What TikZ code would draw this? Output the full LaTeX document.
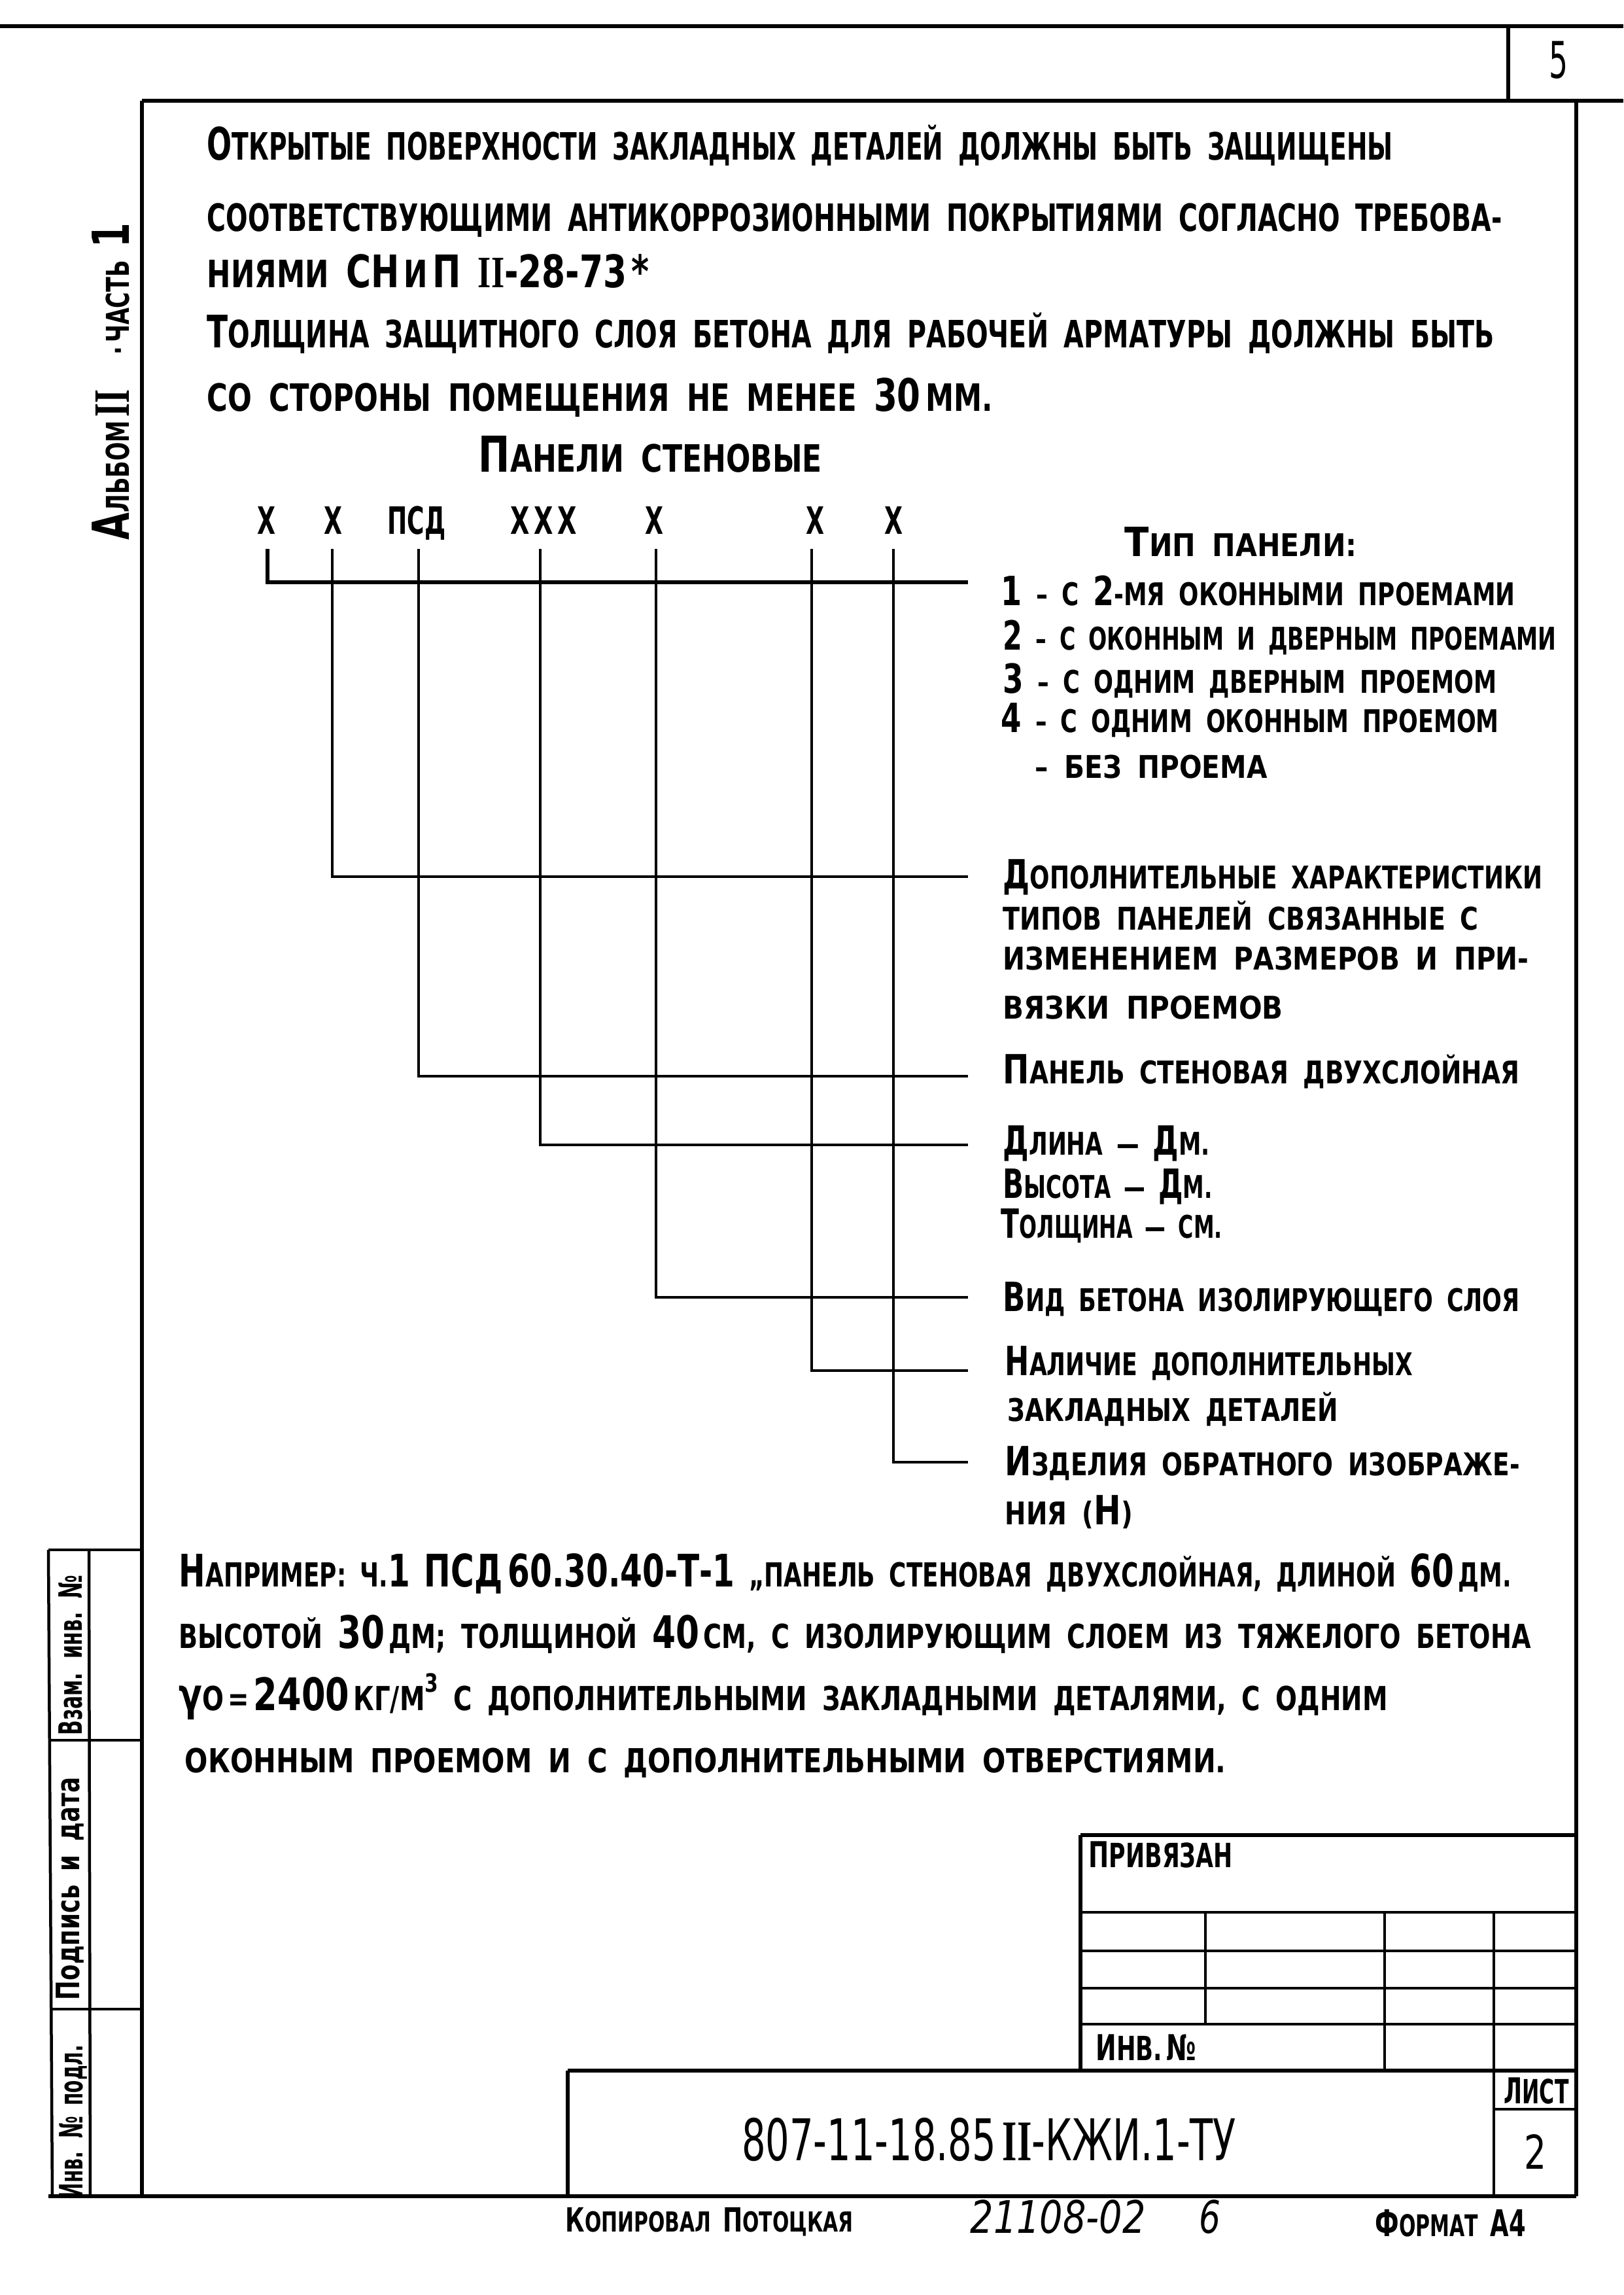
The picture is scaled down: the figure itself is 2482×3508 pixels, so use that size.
\documentclass[tikz,border=0pt]{standalone}
\usepackage{fontspec}
\setmainfont{DejaVu Sans}
\newfontfamily\romf{Liberation Serif}
\usepackage{graphicx}
\newsavebox\fitbox
\newcommand\fitto[2]{\sbox\fitbox{#2}\pgfmathsetmacro\fitf{#1*0.284528/\the\wd\fitbox}\scalebox{\fitf}[1]{\usebox\fitbox}}
\def\initsz{12}
\newcommand\I[1]{{\fontsize{\initsz}{\initsz}\selectfont #1}}
\newcommand\rom[1]{{\romf\bfseries #1}}
\tikzset{
  txt/.style={inner sep=0pt, anchor=base west},
  ctr/.style={inner sep=0pt, anchor=base},
  fs/.style n args={2}{font={\fontsize{#1}{#1}\selectfont\bfseries\def\initsz{#2}\spaceskip=0.6em\relax}},
  fm/.style n args={2}{font={\fontsize{#1}{#1}\selectfont\mdseries\def\initsz{#2}\spaceskip=0.6em\relax}},
  pfont/.style={fs={16.4}{19.5}},
  rfont/.style={fs={13.6}{17.5}},
  efont/.style={fs={14.4}{19.5}},
  hfont/.style={fs={16.4}{21.5}},
  cfont/.style={fs={16.4}{16.4}},
  sfont/.style={fs={14}{14}},
  afont/.style={fs={13.7}{22.2}},
  tbfont/.style={fs={14.5}{15.5}},
  thick frame/.style={line width=0.6mm},
  lead/.style={line width=0.45mm},
  gridline/.style={line width=0.45mm},
}
\begin{document}
\begin{tikzpicture}[x=0.1mm,y=-0.1mm]
\useasboundingbox (0,0) rectangle (2482,3508);
\fill[white] (0,0) rectangle (2482,3508);

% sheet frame
\draw[thick frame] (0,40) -- (2482,40);
\draw[thick frame] (2306,40) -- (2306,154);
\draw[thick frame] (217,154) -- (2482,154);
\draw[thick frame] (217,154) -- (217,3357);
\draw[thick frame] (2410,154) -- (2410,3357);
\draw[thick frame] (74,3357) -- (2410,3357);
\node[ctr, fm={22}{22}] (pg) at (2383,120) {\fitto{29}{5}};

% side stamp
\draw[gridline] (74,2369) -- (217,2369);
\draw[gridline] (74,2369) -- (80,3357);
\draw[gridline] (136,2369) -- (138,3357);
\draw[gridline] (76,2660) -- (217,2660);
\draw[gridline] (78,3071) -- (217,3071);
\node[ctr, sfont, rotate=90] (s1) at (125,2530) {\fitto{245}{Взам. инв. №}};
\node[ctr, sfont, rotate=90] (s2) at (121,2887) {\fitto{340}{Подпись и дата}};
\node[ctr, sfont, rotate=90] (s3) at (126,3243) {\fitto{234}{Инв. № подл.}};
\node[ctr, afont, rotate=90] (alb) at (197,583) {\fitto{485}{\I{А}ЛЬБОМ\,\I{\rom{II}}\hspace{1.6em}·\,ЧАСТЬ \I{1}}};

% top paragraph
\node[txt, pfont] (p1) at (316,245) {\fitto{1813}{\I{О}ТКРЫТЫЕ ПОВЕРХНОСТИ ЗАКЛАДНЫХ ДЕТАЛЕЙ ДОЛЖНЫ БЫТЬ ЗАЩИЩЕНЫ}};
\node[txt, pfont] (p2) at (316,354) {\fitto{1980}{СООТВЕТСТВУЮЩИМИ АНТИКОРРОЗИОННЫМИ ПОКРЫТИЯМИ СОГЛАСНО ТРЕБОВА-}};
\node[txt, pfont] (p3) at (316,440) {\fitto{676}{НИЯМИ \I{СН}\,И\,\I{П} \I{\rom{II}-28-73}\,\I{*}}};
\node[txt, pfont] (p4) at (316,532) {\fitto{1968}{\I{Т}ОЛЩИНА ЗАЩИТНОГО СЛОЯ БЕТОНА ДЛЯ РАБОЧЕЙ АРМАТУРЫ ДОЛЖНЫ БЫТЬ}};
\node[txt, pfont] (p5) at (316,629) {\fitto{1201}{СО СТОРОНЫ ПОМЕЩЕНИЯ НЕ МЕНЕЕ \I{30}\,ММ.}};
\node[txt, hfont] (hd) at (731,722) {\fitto{525}{\I{П}АНЕЛИ СТЕНОВЫЕ}};

% code letters
\node[ctr, cfont] (c1) at (407,816) {\fitto{28}{Х}};
\node[ctr, cfont] (c2) at (509,816) {\fitto{28}{Х}};
\node[ctr, cfont] (c3) at (637,816) {\fitto{89}{ПСД}};
\node[ctr, cfont] (c4) at (831,816) {\fitto{101}{Х\,Х\,Х}};
\node[ctr, cfont] (c5) at (1000,816) {\fitto{28}{Х}};
\node[ctr, cfont] (c6) at (1246,816) {\fitto{28}{Х}};
\node[ctr, cfont] (c7) at (1366,816) {\fitto{28}{Х}};

% leader points
\coordinate (a1) at (409,839);
\coordinate (a2) at (508,839);
\coordinate (a3) at (640,839);
\coordinate (a4) at (826,839);
\coordinate (a5) at (1003,839);
\coordinate (a6) at (1241,839);
\coordinate (a7) at (1366,839);
\coordinate (e1) at (1480,890);
\coordinate (e2) at (1480,1340);
\coordinate (e3) at (1480,1645);
\coordinate (e4) at (1480,1750);
\coordinate (e5) at (1480,1983);
\coordinate (e6) at (1480,2095);
\coordinate (e7) at (1480,2235);
\draw[lead, line width=0.55mm] (a1) |- (e1);
\draw[lead] (a2) |- (e2);
\draw[lead] (a3) |- (e3);
\draw[lead] (a4) |- (e4);
\draw[lead] (a5) |- (e5);
\draw[lead] (a6) |- (e6);
\draw[lead] (a7) |- (e7);

% explanation texts
\node[txt, rfont] (tt) at (1719,850) {\fitto{355}{\I{Т}ИП ПАНЕЛИ:}};
\node[txt, rfont] (t1) at (1530,925) {\fitto{786}{\I{1} – С \I{2}-МЯ ОКОННЫМИ ПРОЕМАМИ}};
\node[txt, rfont] (t1b) at (1533,993) {\fitto{846}{\I{2} – С ОКОННЫМ И ДВЕРНЫМ ПРОЕМАМИ}};
\node[txt, rfont] (t1c) at (1533,1059) {\fitto{755}{\I{3} – С ОДНИМ ДВЕРНЫМ ПРОЕМОМ}};
\node[txt, rfont] (t1d) at (1530,1119) {\fitto{761}{\I{4} – С ОДНИМ ОКОННЫМ ПРОЕМОМ}};
\node[txt, rfont] (t1e) at (1582,1189) {\fitto{355}{– БЕЗ ПРОЕМА}};
\node[txt, rfont] (t2) at (1533,1358) {\fitto{825}{\I{Д}ОПОЛНИТЕЛЬНЫЕ ХАРАКТЕРИСТИКИ}};
\node[txt, rfont] (t2b) at (1533,1421) {\fitto{727}{ТИПОВ ПАНЕЛЕЙ СВЯЗАННЫЕ С}};
\node[txt, rfont] (t2c) at (1533,1482) {\fitto{804}{ИЗМЕНЕНИЕМ РАЗМЕРОВ И ПРИ-}};
\node[txt, rfont] (t2d) at (1533,1557) {\fitto{428}{ВЯЗКИ ПРОЕМОВ}};
\node[txt, rfont] (t3) at (1533,1656) {\fitto{790}{\I{П}АНЕЛЬ СТЕНОВАЯ ДВУХСЛОЙНАЯ}};
\node[txt, rfont] (t4) at (1533,1765) {\fitto{316}{\I{Д}ЛИНА — \I{Д}М.}};
\node[txt, rfont] (t4b) at (1533,1831) {\fitto{320}{\I{В}ЫСОТА — \I{Д}М.}};
\node[txt, rfont] (t4c) at (1530,1892) {\fitto{338}{\I{Т}ОЛЩИНА — СМ.}};
\node[txt, rfont] (t5) at (1533,2004) {\fitto{790}{\I{В}ИД БЕТОНА ИЗОЛИРУЮЩЕГО СЛОЯ}};
\node[txt, rfont] (t6) at (1536,2102) {\fitto{623}{\I{Н}АЛИЧИЕ ДОПОЛНИТЕЛЬНЫХ}};
\node[txt, rfont] (t6b) at (1540,2172) {\fitto{505}{ЗАКЛАДНЫХ ДЕТАЛЕЙ}};
\node[txt, rfont] (t7) at (1536,2255) {\fitto{787}{\I{И}ЗДЕЛИЯ ОБРАТНОГО ИЗОБРАЖЕ-}};
\node[txt, rfont] (t7b) at (1536,2330) {\fitto{195}{НИЯ (\I{Н})}};

% example
\node[txt, efont] (x1) at (273,2425) {\fitto{2037}{\I{Н}АПРИМЕР: Ч.\I{1} \I{ПСД\,60.30.40-Т-1} „ПАНЕЛЬ СТЕНОВАЯ ДВУХСЛОЙНАЯ, ДЛИНОЙ \I{60}\,ДМ.}};
\node[txt, efont] (x2) at (273,2519) {\fitto{2067}{ВЫСОТОЙ \I{30}\,ДМ; ТОЛЩИНОЙ \I{40}\,СМ, С ИЗОЛИРУЮЩИМ СЛОЕМ ИЗ ТЯЖЕЛОГО БЕТОНА}};
\node[txt, efont] (x3) at (273,2614) {\fitto{1848}{\I{γ}О\,=\,\I{2400}\,КГ/М\raisebox{0.55em}{\fontsize{11}{11}\selectfont 3} С ДОПОЛНИТЕЛЬНЫМИ ЗАКЛАДНЫМИ ДЕТАЛЯМИ, С ОДНИМ}};
\node[txt, efont] (x4) at (282,2709) {\fitto{1592}{ОКОННЫМ ПРОЕМОМ И С ДОПОЛНИТЕЛЬНЫМИ ОТВЕРСТИЯМИ.}};

% title block
\draw[thick frame] (1652,2805) -- (2410,2805);
\draw[thick frame] (1652,2805) -- (1652,3165);
\draw[gridline] (1652,2923) -- (2410,2923);
\draw[gridline] (1652,2982) -- (2410,2982);
\draw[gridline] (1652,3039) -- (2410,3039);
\draw[gridline] (1652,3094) -- (2410,3094);
\draw[gridline] (1843,2923) -- (1843,3094);
\draw[gridline] (2117,2923) -- (2117,3165);
\draw[gridline] (2284,2923) -- (2284,3357);
\draw[thick frame] (868,3165) -- (2410,3165);
\draw[thick frame] (868,3165) -- (868,3357);
\draw[gridline] (2284,3224) -- (2410,3224);
\node[txt, tbfont] (pr) at (1664,2854) {\fitto{220}{\I{П}РИВЯЗАН}};
\node[txt, tbfont] (inv) at (1675,3149) {\fitto{153}{\I{И}НВ.\,\I{№}}};
\node[ctr, fm={25}{25}] (code) at (1512,3302) {\fitto{756}{807-11-18.85\,\rom{II}-КЖИ.1-ТУ}};
\node[ctr, tbfont] (ls) at (2349,3215) {\fitto{99}{\I{Л}ИСТ}};
\node[ctr, fm={20.3}{20.3}] (ln) at (2347,3315) {\fitto{34}{2}};

% under frame
\node[txt, fs={12}{14.5}] (cp) at (864,3411) {\fitto{440}{\I{К}ОПИРОВАЛ \I{П}ОТОЦКАЯ}};
\node[txt, fm={19.5}{19.5}] (num) at (1483,3413) {\fitto{268}{\itshape 21108-02}};
\node[ctr, fm={19.5}{19.5}] (num6) at (1850,3413) {\fitto{33}{\itshape 6}};
\node[txt, fs={13}{16}] (fmt) at (2102,3418) {\fitto{230}{\I{Ф}ОРМАТ \I{А4}}};
\end{tikzpicture}
\end{document}
